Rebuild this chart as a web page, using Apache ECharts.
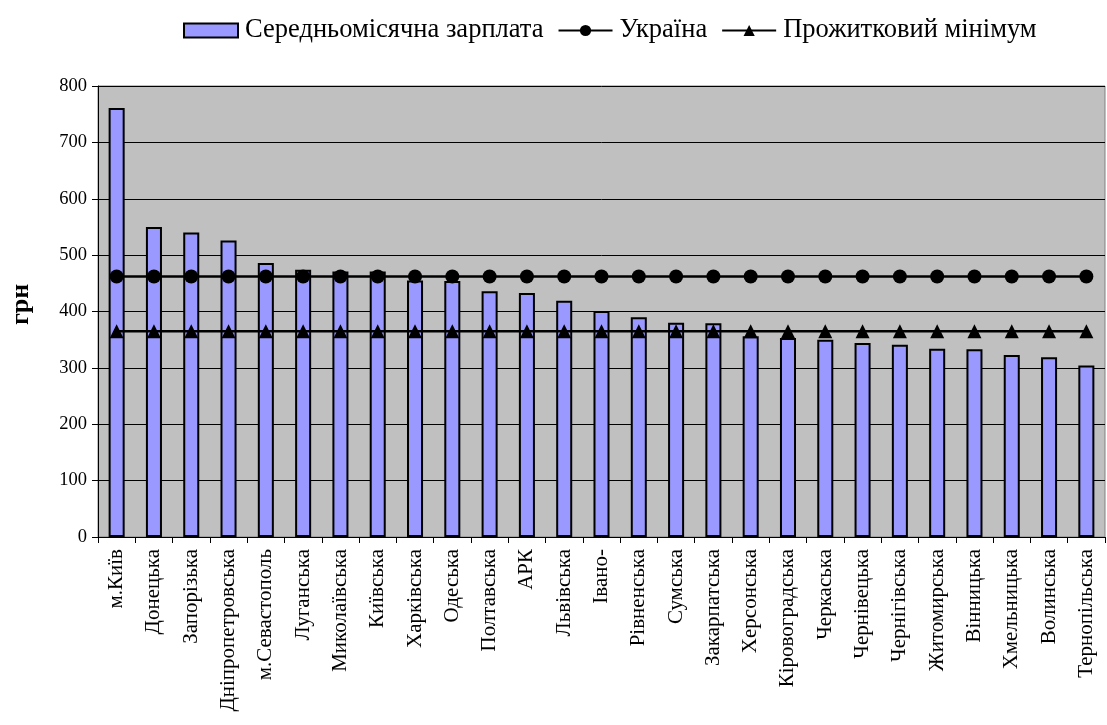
<!DOCTYPE html>
<html><head><meta charset="utf-8">
<script src="https://cdn.jsdelivr.net/npm/echarts@6/dist/echarts.min.js"></script>
<style>html,body{margin:0;padding:0;background:#fff}#c{width:1107px;height:725px}</style>
</head><body><div id="c"></div>
<script>
const categories = ['м.Київ','Донецька','Запорізька','Дніпропетровська','м.Севастополь','Луганська','Миколаївська','Київська','Харківська','Одеська','Полтавська','АРК','Львівська','Івано-','Рівненська','Сумська','Закарпатська','Херсонська','Кіровоградська','Черкаська','Чернівецька','Чернігівська','Житомирська','Вінницька','Хмельницька','Волинська','Тернопільська'];
const salary = [761,550,540,526,486,474,471,471,455,454,436,433,419,401,390,380,379,356,353,350,344,341,334,333,323,319,304];
const ukraine = categories.map(() => 462);
const minimum = categories.map(() => 365);
const yTicks = {min:0, max:800, interval:100};

const font = 'Liberation Serif';
const chart = echarts.init(document.getElementById('c'));
chart.setOption({
  animation:false,
  textStyle:{fontFamily:font},
  legend:{
    top:12, left:178, itemGap:14, itemWidth:54, itemHeight:14,
    textStyle:{fontFamily:font, fontSize:26.5, color:'#000', padding:[0,0,0,2]},
    data:[
      {name:'Середньомісячна зарплата', icon:'rect', itemStyle:{color:'#9999FF', borderColor:'#000', borderWidth:2}},
      {name:'Україна'},
      {name:'Прожитковий мінімум'}
    ]
  },
  grid:{left:97, right:2, top:86, bottom:188, show:true, backgroundColor:'#C0C0C0', borderColor:'#808080', borderWidth:1},
  xAxis:{
    type:'category', data:categories,
    axisLine:{lineStyle:{color:'#000', width:1}},
    axisTick:{show:true, length:6, lineStyle:{color:'#000'}},
    axisLabel:{rotate:90, interval:0, fontSize:21, color:'#000', fontFamily:font, margin:12}
  },
  yAxis:{
    type:'value', min:yTicks.min, max:yTicks.max, interval:yTicks.interval,
    name:'грн', nameLocation:'middle', nameGap:64,
    nameTextStyle:{fontFamily:font, fontSize:26, fontWeight:'bold', color:'#000', padding:[0,0,0,14]},
    axisLine:{show:true, lineStyle:{color:'#000'}},
    axisTick:{show:true, length:6, lineStyle:{color:'#000'}},
    axisLabel:{fontSize:18.5, color:'#000', fontFamily:font, margin:11},
    splitLine:{lineStyle:{color:'#000', width:1}}
  },
  series:[
    {name:'Середньомісячна зарплата', type:'bar', data:salary, barCategoryGap:'57%',
     itemStyle:{color:'#9999FF', borderColor:'#000', borderWidth:2}},
    {name:'Україна', type:'line', data:ukraine, symbol:'circle', symbolSize:14,
     lineStyle:{color:'#000', width:2.5}, itemStyle:{color:'#000'}},
    {name:'Прожитковий мінімум', type:'line', data:minimum, symbol:'triangle', symbolSize:14,
     lineStyle:{color:'#000', width:2.5}, itemStyle:{color:'#000'}}
  ]
});
</script></body></html>
